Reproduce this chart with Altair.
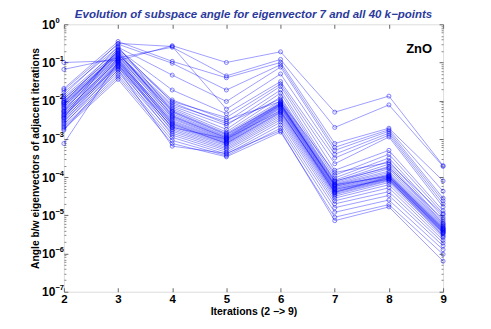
import altair as alt
import pandas as pd

iterations = [2, 3, 4, 5, 6, 7, 8, 9]

# log10 of the angle for each of the 40 k-points, one list per iteration
it2 = [-1.00, -1.18, -1.68, -1.72, -1.78, -1.85, -1.90, -1.95, -2.00, -2.02,
       -2.05, -2.08, -2.10, -2.12, -2.15, -2.18, -2.20, -2.24, -2.27, -2.30,
       -2.33, -2.36, -2.40, -2.43, -2.46, -2.50, -2.53, -2.56, -2.60, -2.63,
       -2.67, -2.70, -2.74, -2.77, -2.45, -2.28, -2.05, -1.95, -3.12, -2.38]
it3 = [-0.95, -0.88, -0.45, -0.52, -0.60, -0.50, -0.66, -0.72, -0.78, -0.80,
       -0.83, -0.86, -0.90, -0.76, -0.93, -0.70, -0.98, -0.82, -1.02, -0.95,
       -1.06, -0.88, -1.10, -0.92, -1.14, -1.00, -1.20, -1.04, -1.26, -1.12,
       -1.32, -1.38, -1.44, -1.18, -0.62, -0.68, -0.58, -0.74, -0.98, -1.08]
it4 = [-0.56, -0.60, -0.97, -1.02, -1.33, -0.58, -1.72, -2.02, -2.10, -2.14,
       -2.18, -2.22, -2.26, -2.30, -2.34, -2.38, -2.42, -2.45, -2.48, -2.52,
       -2.55, -2.58, -2.62, -2.65, -2.68, -2.72, -2.76, -2.80, -2.85, -2.90,
       -2.96, -3.04, -3.12, -3.19, -2.05, -1.98, -2.28, -2.40, -2.60, -2.70]
it5 = [-1.00, -1.35, -1.40, -1.72, -2.02, -2.22, -2.34, -2.44, -2.55, -2.65,
       -2.75, -2.82, -2.86, -2.90, -2.93, -2.95, -2.97, -3.00, -3.02, -3.04,
       -3.06, -3.08, -3.10, -3.12, -3.15, -3.18, -3.22, -3.26, -3.30, -3.35,
       -3.40, -3.44, -3.47, -3.38, -2.60, -2.50, -2.88, -2.98, -3.12, -3.00]
it6 = [-0.72, -0.92, -1.00, -1.06, -1.12, -1.30, -1.50, -1.56, -1.62, -1.72,
       -1.80, -1.90, -2.00, -2.04, -2.06, -2.08, -2.10, -2.12, -2.14, -2.16,
       -2.18, -2.20, -2.24, -2.28, -2.32, -2.36, -2.40, -2.45, -2.50, -2.56,
       -2.64, -2.72, -2.82, -2.78, -1.95, -2.02, -2.08, -2.11, -2.30, -2.26]
it7 = [-2.30, -2.70, -3.12, -3.22, -3.30, -3.40, -3.50, -3.65, -3.82, -3.95,
       -4.02, -4.08, -4.12, -4.15, -4.18, -4.20, -4.22, -4.25, -4.28, -4.30,
       -4.33, -4.36, -4.38, -4.40, -4.43, -4.46, -4.50, -4.55, -4.62, -4.70,
       -4.80, -4.92, -5.05, -5.14, -4.10, -3.88, -4.24, -4.20, -4.32, -4.40]
it8 = [-1.88, -2.11, -2.72, -2.76, -2.80, -2.85, -2.90, -2.95, -3.30, -3.40,
       -3.50, -3.58, -3.66, -3.72, -3.78, -3.84, -3.88, -3.92, -3.95, -3.98,
       -4.00, -4.02, -4.04, -4.06, -4.08, -4.10, -4.14, -4.20, -4.28, -4.38,
       -4.48, -4.60, -4.72, -4.78, -3.75, -3.62, -3.95, -3.98, -4.05, -4.00]
it9 = [-3.70, -3.72, -4.10, -4.37, -4.55, -4.62, -4.70, -4.78, -4.88, -4.95,
       -5.05, -5.15, -5.20, -5.22, -5.25, -5.27, -5.30, -5.32, -5.34, -5.36,
       -5.38, -5.40, -5.42, -5.44, -5.46, -5.48, -5.52, -5.58, -5.65, -5.72,
       -5.80, -5.90, -6.02, -6.20, -5.10, -4.98, -5.35, -5.40, -5.55, -5.45]

decade_exponents = [-7, -6, -5, -4, -3, -2, -1, 0]
annotation = ["ZnO"]

columns = [it2, it3, it4, it5, it6, it7, it8, it9]
rows = []
for k in range(40):
    for j, it in enumerate(iterations):
        rows.append({"k": k + 1, "iteration": it, "angle": 10 ** columns[j][k]})
df = pd.DataFrame(rows)

major_ticks = [10.0 ** e for e in decade_exponents]
minor_ticks = [m * 10.0 ** e for e in decade_exponents[:-1] for m in range(2, 10)]
exp_expr = "replace(format(round(log(datum.value)/LN10), 'd'), '-', '−')"

xscale = alt.Scale(domain=[2, 9], nice=False, zero=False)
yscale = alt.Scale(type="log", domain=[1e-7, 1], nice=False)

FONT = "Liberation Sans"
TICK = "#666666"
major = dict(offset=-4, tickSize=4, domain=False, grid=False, tickColor=TICK, tickWidth=1)
minor = dict(offset=-2, tickSize=2, domain=False, grid=False, tickColor="#888888",
             tickWidth=1, labels=False, title=None)

blue = "#0000ff"
lines = alt.Chart(df).mark_line(
    color=blue, opacity=0.38, strokeWidth=1,
    point=alt.OverlayMarkDef(filled=False, size=16, color=blue, opacity=0.5, strokeWidth=1),
).encode(
    x=alt.X("iteration:Q", scale=xscale,
            axis=alt.Axis(values=iterations, title="Iterations (2 −> 9)", orient="bottom",
                          labelFont=FONT, labelFontWeight="bold", labelFontSize=11.5,
                          labelColor="black", labelPadding=2, titleFont=FONT,
                          titleFontWeight="bold", titleFontSize=10.5, titleColor="black",
                          titlePadding=1, labelFlush=False, **major)),
    y=alt.Y("angle:Q", scale=yscale,
            axis=alt.Axis(values=major_ticks, labelExpr="'10'", labelOverlap=False,
                          title="Angle b/w eigenvectors of adjacent iterations", orient="left",
                          labelFont=FONT, labelFontWeight="bold", labelFontSize=12,
                          labelColor="black", labelPadding=9, titleFont=FONT,
                          titleFontWeight="bold", titleFontSize=10.3, titleColor="black",
                          titlePadding=1, labelFlush=False, **major)),
    detail="k:N",
)

ghost_major = alt.Chart(df).mark_point(opacity=0).encode(
    x=alt.X("iteration:Q", scale=xscale,
            axis=alt.Axis(values=iterations, labels=False, title=None, orient="top", **major)),
    y=alt.Y("angle:Q", scale=yscale,
            axis=alt.Axis(values=major_ticks, labels=False, title=None, orient="right", **major)),
)

ghost_minor_left = alt.Chart(df).mark_point(opacity=0).encode(
    x=alt.X("iteration:Q", scale=xscale, axis=None),
    y=alt.Y("angle:Q", scale=yscale,
            axis=alt.Axis(values=minor_ticks, orient="left", **minor)),
)

ghost_minor_right = alt.Chart(df).mark_point(opacity=0).encode(
    x=alt.X("iteration:Q", scale=xscale, axis=None),
    y=alt.Y("angle:Q", scale=yscale,
            axis=alt.Axis(values=minor_ticks, orient="right", **minor)),
)

# superscript exponents of the y tick labels, placed just right of the "10"
ghost_exp = alt.Chart(df).mark_point(opacity=0).encode(
    x=alt.X("iteration:Q", scale=xscale, axis=None),
    y=alt.Y("angle:Q", scale=yscale,
            axis=alt.Axis(values=major_ticks, orient="right", offset=-389, ticks=False,
                          domain=False, grid=False, labelExpr=exp_expr, labelOverlap=False,
                          labelFont=FONT, labelFontWeight="bold", labelFontSize=7.5,
                          labelColor="black", labelPadding=0, labelBaseline="bottom",
                          labelFlush=False, title=None)),
)

label = alt.Chart(pd.DataFrame({"t": annotation})).mark_text(
    font=FONT, fontWeight="bold", fontSize=13, color="black", align="center", baseline="middle"
).encode(text="t:N", x=alt.value(356), y=alt.value(25))

chart = alt.layer(lines, ghost_major, ghost_minor_left, ghost_minor_right, ghost_exp, label).resolve_axis(
    x="independent", y="independent"
).properties(
    width=380, height=268,
    autosize=alt.AutoSizeParams(type="none"),
    padding={"left": 56, "top": 16, "right": 40, "bottom": 28},
    title=alt.Title("Evolution of subspace angle for eigenvector 7 and all 40 k−points",
                    font=FONT, fontSize=11.5, fontStyle="italic", fontWeight="bold",
                    color="#2b3a9c", anchor="middle", offset=6, dy=10),
).configure_view(fill="#f4f7fc", stroke="#777777", strokeWidth=1).configure(background="white")

chart.save("out.html", embed_options={"renderer": "svg", "actions": False})
